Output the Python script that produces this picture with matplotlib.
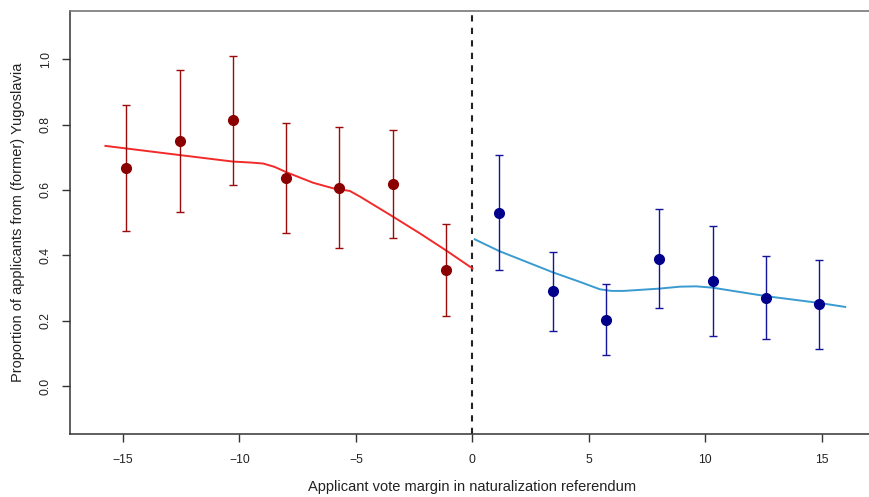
import matplotlib
matplotlib.use("Agg")
import matplotlib.pyplot as plt

# ---- data ----
left_x = [-14.87, -12.57, -10.28, -7.99, -5.72, -3.41, -1.14]
left_y = [0.666, 0.750, 0.813, 0.636, 0.607, 0.617, 0.355]
left_lo = [0.474, 0.532, 0.615, 0.469, 0.422, 0.452, 0.213]
left_hi = [0.859, 0.968, 1.010, 0.804, 0.792, 0.784, 0.497]

right_x = [1.15, 3.45, 5.74, 8.02, 10.31, 12.60, 14.88]
right_y = [0.530, 0.291, 0.203, 0.390, 0.321, 0.270, 0.250]
right_lo = [0.355, 0.169, 0.094, 0.238, 0.154, 0.143, 0.114]
right_hi = [0.707, 0.411, 0.311, 0.541, 0.489, 0.398, 0.386]

fit_left_x = [-15.75, -12.57, -10.28, -9.5, -8.98, -8.5, -7.97, -6.83, -5.97, -5.26, -4.83, -3.40, -2.25, -1.11, 0.0]
fit_left_y = [0.735, 0.707, 0.687, 0.684, 0.681, 0.671, 0.654, 0.622, 0.605, 0.597, 0.580, 0.518, 0.467, 0.414, 0.360]

fit_right_x = [0.1, 1.15, 3.45, 4.6, 5.47, 5.97, 6.5, 8.02, 8.9, 9.6, 10.3, 12.6, 14.9, 16.0]
fit_right_y = [0.449, 0.413, 0.348, 0.319, 0.296, 0.291, 0.291, 0.298, 0.304, 0.305, 0.301, 0.275, 0.254, 0.242]

xticks = [-15, -10, -5, 0, 5, 10, 15]
yticks = [0.0, 0.2, 0.4, 0.6, 0.8, 1.0]
ytick_labels = ["0.0", "0.2", "0.4", "0.6", "0.8", "1.0"]
xtick_labels = ["\u221215", "\u221210", "\u22125", "0", "5", "10", "15"]

plt.rcParams['font.family'] = ['Liberation Sans', 'DejaVu Sans']

W, H = 870, 497
fig = plt.figure(figsize=(W / 100, H / 100), dpi=100)
ax_left_px, ax_right_px = 70, 874.8
ax_top_px, ax_bot_px = 11, 434.3
ax = fig.add_axes([ax_left_px / W, (H - ax_bot_px) / H,
                   (ax_right_px - ax_left_px) / W, (ax_bot_px - ax_top_px) / H])

ax.set_xlim(-17.27, 17.27)
ax.set_ylim(-0.148, 1.148)

# fitted curves
ax.plot(fit_left_x, fit_left_y, color='#f22a2a', lw=1.4, zorder=2)
ax.plot(fit_right_x, fit_right_y, color='#3a9bd0', lw=1.4, zorder=2)

# error bars + points
l_err = [[y - lo for y, lo in zip(left_y, left_lo)], [hi - y for y, hi in zip(left_y, left_hi)]]
r_err = [[y - lo for y, lo in zip(right_y, right_lo)], [hi - y for y, hi in zip(right_y, right_hi)]]
ax.errorbar(left_x, left_y, yerr=l_err, fmt='o', color='#8b0000', ecolor='#9b0a0a',
            elinewidth=1.0, capsize=3.2, capthick=1.0, markersize=7, zorder=3)
ax.errorbar(right_x, right_y, yerr=r_err, fmt='o', color='#00008b', ecolor='#14149b',
            elinewidth=1.0, capsize=3.2, capthick=1.0, markersize=7, zorder=3)

# cutoff
ax.axvline(0, color='#222222', lw=1.5, ls=(0, (3, 3)), zorder=1)

ax.spines['right'].set_visible(False)
ax.spines['top'].set_color('#777777')
ax.spines['top'].set_linewidth(1.2)
for k in ('left', 'bottom'):
    ax.spines[k].set_linewidth(1.1)
    ax.spines[k].set_color('#333333')

ax.set_xticks(xticks)
ax.set_xticklabels(xtick_labels)
ax.set_yticks(yticks)
ax.set_yticklabels(ytick_labels, rotation=90, va='center')
ax.tick_params(axis='both', length=6, width=1.0, color='#333333', labelsize=8.7, labelcolor='#222222')
ax.tick_params(axis='x', pad=8)
ax.tick_params(axis='y', pad=7)

ax.set_xlabel("Applicant vote margin in naturalization referendum", fontsize=10.5, color='#222222')
ax.set_ylabel("Proportion of applicants from (former) Yugoslavia", fontsize=10.5, color='#222222')
ax.xaxis.label.set_va('center')
ax.yaxis.label.set_va('center')
ax.xaxis.set_label_coords(0.5, -(487 - ax_bot_px) / (ax_bot_px - ax_top_px))
ax.yaxis.set_label_coords(-(70 - 18) / (ax_right_px - ax_left_px), 0.5)

fig.savefig("out.png", dpi=100)
